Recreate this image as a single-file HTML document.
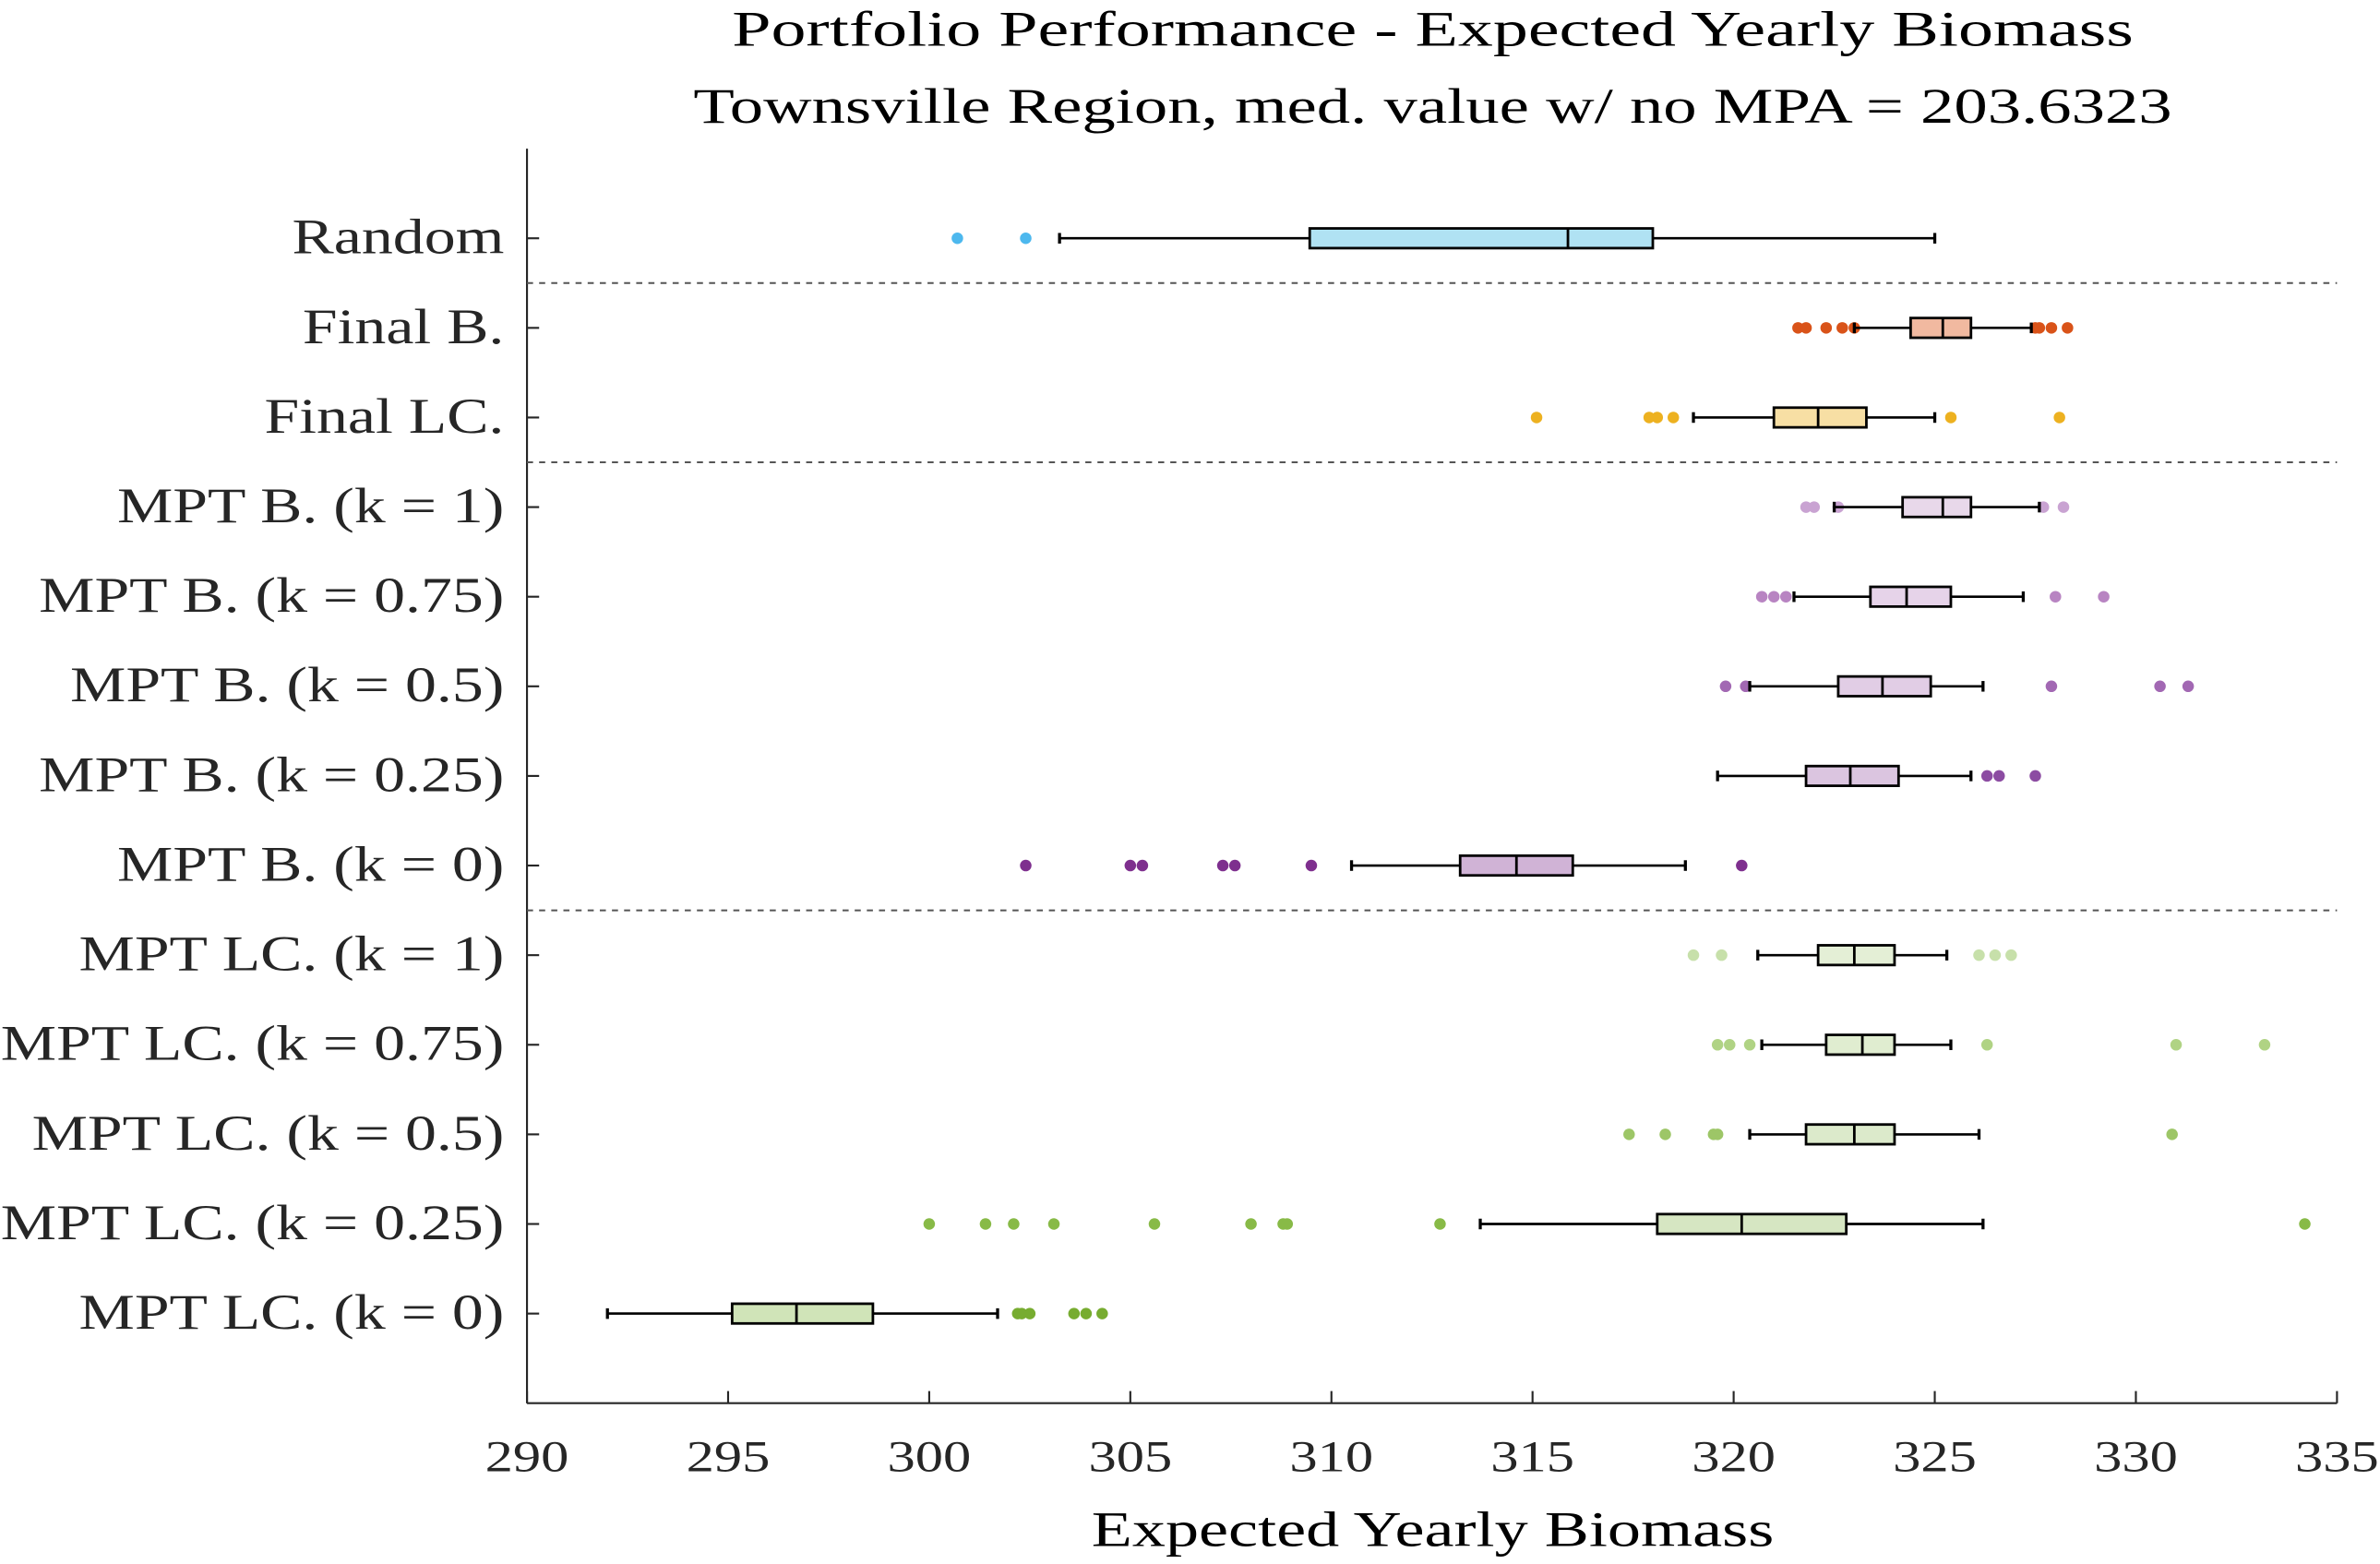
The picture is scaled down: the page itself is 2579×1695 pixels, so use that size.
<!DOCTYPE html>
<html><head><meta charset="utf-8"><style>
html,body{margin:0;padding:0;background:#fff;}
svg{display:block;font-family:"Liberation Serif",serif;}
</style></head><body>
<svg id="chart" width="2579" height="1695" viewBox="0 0 1568 1031" xmlns="http://www.w3.org/2000/svg">
<text class="wide" data-k="1.40" x="944" y="30" font-size="33" text-anchor="middle">Portfolio Performance - Expected Yearly Biomass</text>
<text class="wide" data-k="1.34" x="944" y="81" font-size="33" text-anchor="middle">Townsville Region, med. value w/ no MPA = 203.6323</text>
<text class="wide" data-k="1.33" x="944" y="1019" font-size="33" text-anchor="middle">Expected Yearly Biomass</text>
<g id="plot"></g>
</svg>
<script>
const categories=["Random","Final B.","Final LC.","MPT B. (k = 1)","MPT B. (k = 0.75)","MPT B. (k = 0.5)","MPT B. (k = 0.25)","MPT B. (k = 0)","MPT LC. (k = 1)","MPT LC. (k = 0.75)","MPT LC. (k = 0.5)","MPT LC. (k = 0.25)","MPT LC. (k = 0)"];
const whiskerLow=[303.24,323.0,319.0,322.5,321.5,320.4,319.6,310.5,320.6,320.7,320.4,313.7,292.0];
const q1=[309.46,324.4,321.0,324.2,323.4,322.6,321.8,313.2,322.1,322.3,321.8,318.1,295.1];
const median=[315.88,325.2,322.1,325.2,324.3,323.7,322.9,314.6,323.0,323.2,323.0,320.2,296.7];
const q3=[317.99,325.9,323.3,325.9,325.4,324.9,324.1,316.0,324.0,324.0,324.0,322.8,298.6];
const whiskerHigh=[325.0,327.4,325.0,327.6,327.2,326.2,325.9,318.8,325.3,325.4,326.1,326.2,301.7];
const outliers=[[300.7,302.4],[321.6,321.8,322.3,322.7,323.0,327.5,327.6,327.9,328.3],[315.1,317.9,318.1,318.5,325.4,328.1],[321.8,322.0,322.6,327.7,328.2],[320.7,321.0,321.3,328.0,329.2],[319.8,320.3,327.9,330.6,331.3],[326.3,326.6,327.5],[302.4,305.0,305.3,307.3,307.6,309.5,320.2],[319.0,319.7,326.1,326.5,326.9],[319.6,319.9,320.4,326.3,331.0,333.2],[317.4,318.3,319.5,319.6,330.9],[300.0,301.4,302.1,303.1,305.6,308.0,308.8,308.9,312.7,334.2],[302.2,302.3,302.5,303.6,303.9,304.3]];
const xTicks=[290,295,300,305,310,315,320,325,330,335];
const separatorsAfter=[1,3,8];
const dotColors=["#4db8ee","#d95319","#edb120","#c9a3d2","#b884c2","#a268b3","#8c4ca2","#7e2f8e","#c7e0aa","#b0d384","#9dc667","#88ba47","#77ac30"];
const fillColors=["#b0e2f3","#f1b9a0","#f7dfa4","#e8d8ea","#e6d3e9","#e1cde5","#dbc5e0","#d0b3d6","#e4efd6","#e0edd0","#dceacb","#d6e6c2","#d0e4b8"];

const NS="http://www.w3.org/2000/svg";
const g=document.getElementById('plot');
const L=347,R=1540,T=98,B=925;
const xs=v=>L+(v-290)*(R-L)/45;
const ys=i=>T+(i+1)*(B-T)/(categories.length+1);
function mk(tag,a){const e=document.createElementNS(NS,tag);for(const k in a)e.setAttribute(k,a[k]);g.appendChild(e);return e;}

let e=mk('line',{x1:L,y1:T,x2:L,y2:B,stroke:'#262626','stroke-width':1.3});


e=mk('line',{x1:L,y1:B,x2:R,y2:B,stroke:'#262626','stroke-width':1.3});



xTicks.forEach(t=>{
  const x=xs(t);
  let tk=mk('line',{x1:x,y1:B,x2:x,y2:B-8,stroke:'#262626','stroke-width':1.3});
  
  
  let tx=mk('text',{x:x,y:B+45,'font-size':29,'text-anchor':'middle',fill:'#262626','class':'wide','data-k':'1.27'});
  tx.textContent=t;
  
  
});

separatorsAfter.forEach(i=>{
  const y=(ys(i-1)+ys(i))/2;
  let s=mk('line',{x1:L,y1:y,x2:R,y2:y,stroke:'#555','stroke-width':1.2,'stroke-dasharray':'4,4'});
  
  
});

categories.forEach((c,i)=>{
  const y=ys(i);
  let lb=mk('text',{x:332,y:y+10,'font-size':33,'text-anchor':'end',fill:'#262626','class':'wide','data-k':'1.25'});
  lb.textContent=c;
  
  
  let t=mk('line',{x1:L,y1:y,x2:L+8,y2:y,stroke:'#262626','stroke-width':1.3});
  
  
  outliers[i].forEach(v=>{
    let d=mk('circle',{cx:xs(v),cy:y,r:3.8,fill:dotColors[i]});
    
    
  });
  let w=mk('line',{x1:xs(whiskerLow[i]),y1:y,x2:xs(whiskerHigh[i]),y2:y,stroke:'#000','stroke-width':1.6});
  
  
  [whiskerLow[i],whiskerHigh[i]].forEach(v=>{
    let cp=mk('line',{x1:xs(v),y1:y-3.5,x2:xs(v),y2:y+3.5,stroke:'#000','stroke-width':2});
    
    
  });
  let b=mk('rect',{x:xs(q1[i]),y:y-6.5,width:xs(q3[i])-xs(q1[i]),height:13,fill:fillColors[i],stroke:'#000','stroke-width':1.7});
  
  
  let m=mk('line',{x1:xs(median[i]),y1:y-6.5,x2:xs(median[i]),y2:y+6.5,stroke:'#000','stroke-width':1.7});
  
  
});

document.querySelectorAll('text.wide').forEach(t=>{
  const k=parseFloat(t.getAttribute('data-k'));
  const w=t.getComputedTextLength();
  t.setAttribute('textLength',(w*k).toFixed(1));
  t.setAttribute('lengthAdjust','spacingAndGlyphs');
});
</script>
</body></html>
